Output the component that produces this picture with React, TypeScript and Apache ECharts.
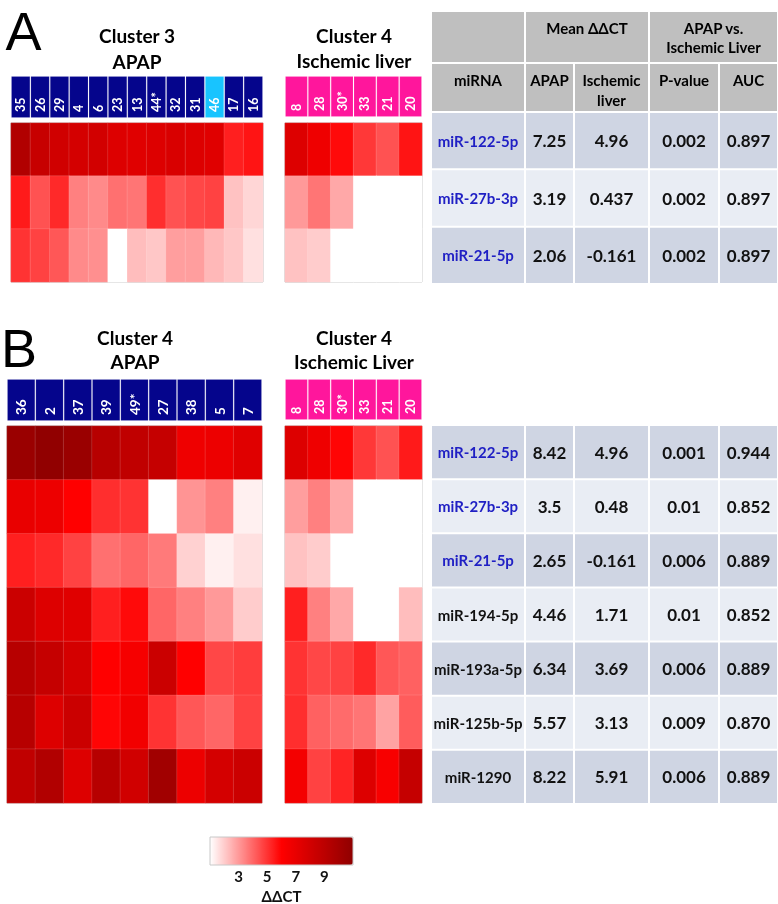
import React, { useEffect, useRef } from 'react';
import * as echarts from 'echarts';

const FONT = 'Lato, "Open Sans", sans-serif';

// ---------- Panel A ----------
const A_MIRNA = ['miR-122-5p', 'miR-27b-3p', 'miR-21-5p'];
const A_APAP_SAMPLES = ['35', '26', '29', '4', '6', '23', '13', '44*', '32', '31', '46', '17', '16'];
const A_APAP_HIGHLIGHT = ['46'];
const A_APAP_VALUES = [
  [9.5, 8.5, 8.1, 7.9, 8.0, 7.5, 7.4, 7.5, 7.7, 7.5, 7.4, 5.4, 5.6],
  [5.5, 4.4, 5.2, 3.5, 3.3, 3.8, 3.7, 5.1, 4.4, 4.6, 4.7, 2.2, 1.8],
  [5.0, 4.7, 4.3, 3.3, 3.2, 0.6, 2.3, 2.1, 2.9, 2.9, 2.4, 2.1, 1.6],
];
const A_ISCH_SAMPLES = ['8', '28', '30*', '33', '21', '20'];
const A_ISCH_VALUES = [
  [7.5, 6.7, 5.8, 4.9, 4.4, 5.6],
  [3.0, 3.7, 2.7, -2.4, -2.6, -2.8],
  [2.2, 2.0, -1.5, -1.8, -1.6, -1.4],
];

// ---------- Panel B ----------
const B_MIRNA = ['miR-122-5p', 'miR-27b-3p', 'miR-21-5p', 'miR-194-5p', 'miR-193a-5p', 'miR-125b-5p', 'miR-1290'];
const B_APAP_SAMPLES = ['36', '2', '37', '39', '49*', '27', '38', '5', '7'];
const B_APAP_VALUES = [
  [10.5, 10.9, 10.5, 9.2, 8.8, 8.6, 6.7, 6.8, 7.4],
  [7.0, 6.8, 6.0, 5.1, 5.0, 0.2, 3.1, 3.5, 1.3],
  [5.4, 5.2, 4.7, 3.8, 4.0, 3.6, 1.9, 1.3, 1.6],
  [8.3, 7.5, 7.4, 5.4, 5.8, 4.0, 3.5, 3.0, 2.0],
  [9.2, 8.6, 7.9, 6.0, 6.4, 8.3, 6.0, 4.6, 4.8],
  [9.2, 7.5, 8.3, 5.9, 6.6, 5.0, 4.3, 4.0, 4.7],
  [8.8, 9.5, 7.5, 9.2, 8.1, 10.2, 6.8, 7.9, 8.3],
];
const B_ISCH_SAMPLES = ['8', '28', '30*', '33', '21', '20'];
const B_ISCH_VALUES = [
  [7.5, 6.7, 5.9, 4.9, 4.4, 5.5],
  [2.9, 3.5, 2.7, -2.3, -2.5, -2.6],
  [2.2, 2.0, -1.5, -1.8, -1.6, -1.4],
  [5.4, 3.5, 2.7, 0.3, 0.5, 2.3],
  [5.0, 4.6, 4.7, 5.2, 4.3, 4.1],
  [5.1, 4.1, 3.9, 3.7, 2.8, 4.2],
  [6.5, 4.7, 5.3, 7.5, 6.3, 8.6],
];

// ---------- Tables ----------
const HIGHLIGHT_MIRNA = ['miR-122-5p', 'miR-27b-3p', 'miR-21-5p'];
const TABLE_A_MIRNA = ['miR-122-5p', 'miR-27b-3p', 'miR-21-5p'];
const TABLE_A_APAP = ['7.25', '3.19', '2.06'];
const TABLE_A_ISCH = ['4.96', '0.437', '-0.161'];
const TABLE_A_P = ['0.002', '0.002', '0.002'];
const TABLE_A_AUC = ['0.897', '0.897', '0.897'];
const TABLE_B_MIRNA = ['miR-122-5p', 'miR-27b-3p', 'miR-21-5p', 'miR-194-5p', 'miR-193a-5p', 'miR-125b-5p', 'miR-1290'];
const TABLE_B_APAP = ['8.42', '3.5', '2.65', '4.46', '6.34', '5.57', '8.22'];
const TABLE_B_ISCH = ['4.96', '0.48', '-0.161', '1.71', '3.69', '3.13', '5.91'];
const TABLE_B_P = ['0.001', '0.01', '0.006', '0.01', '0.006', '0.009', '0.006'];
const TABLE_B_AUC = ['0.944', '0.852', '0.889', '0.852', '0.889', '0.870', '0.889'];
const TABLE_HEAD_TOP = ['', 'Mean ΔΔCT', 'APAP vs.\nIschemic Liver'];
const TABLE_HEAD_SUB = ['miRNA', 'APAP', 'Ischemic\nliver', 'P-value', 'AUC'];

// ---------- Colour scale ----------
const SCALE_MIN = 1;
const SCALE_MAX = 11;
const SCALE_TICKS = [3, 5, 7, 9];

const NAVY = '#05058c';
const CYAN = '#18c4ff';
const PINK = '#ff169c';
const BLUE_TEXT = '#2020c4';
const HEAD_GRAY = '#bfbfbf';
const ROW_DARK = '#cfd5e3';
const ROW_LIGHT = '#e9edf4';

function heatData(values: number[][]) {
  const out: number[][] = [];
  values.forEach((row, r) => row.forEach((v, c) => out.push([c, r, v])));
  return out;
}

export default function App() {
  const ref = useRef<HTMLDivElement>(null);
  useEffect(() => {
    const chart = echarts.init(ref.current!, null, { renderer: 'svg' });

    const panels = [
      { samples: A_APAP_SAMPLES, mirna: A_MIRNA, values: A_APAP_VALUES, base: NAVY, hl: A_APAP_HIGHLIGHT, fs: 12.5,
        heat: { left: 11, top: 123, width: 252, height: 159 }, head: { left: 11, top: 76, width: 252, height: 42 } },
      { samples: A_ISCH_SAMPLES, mirna: A_MIRNA, values: A_ISCH_VALUES, base: PINK, hl: [] as string[], fs: 12.5,
        heat: { left: 285, top: 123, width: 137, height: 159 }, head: { left: 285, top: 76, width: 137, height: 41 } },
      { samples: B_APAP_SAMPLES, mirna: B_MIRNA, values: B_APAP_VALUES, base: NAVY, hl: [] as string[], fs: 13.5,
        heat: { left: 7, top: 426, width: 255, height: 377 }, head: { left: 7, top: 379, width: 255, height: 42 } },
      { samples: B_ISCH_SAMPLES, mirna: B_MIRNA, values: B_ISCH_VALUES, base: PINK, hl: [] as string[], fs: 12.5,
        heat: { left: 285, top: 426, width: 137, height: 377 }, head: { left: 285, top: 379, width: 137, height: 41 } },
    ];

    const grid: any[] = [];
    const xAxis: any[] = [];
    const yAxis: any[] = [];
    const series: any[] = [];

    panels.forEach((p, i) => {
      grid.push({ ...p.heat, show: true, borderColor: '#b8b8b8', borderWidth: 1, backgroundColor: '#ffffff' });
      xAxis.push({ type: 'category', gridIndex: i, data: p.samples, show: false });
      yAxis.push({ type: 'category', gridIndex: i, data: p.mirna, inverse: true, show: false });
      series.push({
        type: 'heatmap', xAxisIndex: i, yAxisIndex: i, data: heatData(p.values),
        itemStyle: { borderColor: 'rgba(255,255,255,0.25)', borderWidth: 0.5 },
        emphasis: { disabled: true }, silent: true,
      });
    });
    panels.forEach((p, i) => {
      const gi = 4 + i;
      grid.push({ ...p.head, show: false });
      xAxis.push({ type: 'category', gridIndex: gi, data: p.samples, show: false });
      yAxis.push({ type: 'value', gridIndex: gi, min: 0, max: 1, show: false });
      series.push({
        type: 'bar', xAxisIndex: gi, yAxisIndex: gi, barWidth: '100%', silent: true,
        data: p.samples.map((s) => ({ value: 1, itemStyle: { color: p.hl.includes(s) ? CYAN : p.base } })),
        itemStyle: { borderColor: 'rgba(255,255,255,0.12)', borderWidth: 1 },
        label: {
          show: true, formatter: '{b}', position: 'insideBottom', distance: 6, rotate: 90,
          align: 'left', verticalAlign: 'middle', color: '#ffffff',
          fontFamily: FONT, fontWeight: 'bold', fontSize: p.fs,
        },
      });
    });
    // colour bar axis
    grid.push({ left: 210, top: 837, width: 143, height: 28, show: false });
    xAxis.push({
      type: 'value', gridIndex: 8, min: SCALE_MIN, max: SCALE_MAX,
      axisLine: { show: false }, axisTick: { show: false }, splitLine: { show: false },
      axisLabel: { customValues: SCALE_TICKS, color: '#111', fontFamily: FONT, fontWeight: 'bold', fontSize: 15, margin: 5 },
      name: 'ΔΔCT', nameLocation: 'middle', nameGap: 25,
      nameTextStyle: { color: '#111', fontFamily: FONT, fontWeight: 'bold', fontSize: 15 },
    });
    yAxis.push({ type: 'value', gridIndex: 8, show: false });

    // ---------- graphics (letters, titles, tables) ----------
    const graphic: any[] = [];
    const txt = (x: number, y: number, text: string, opts: any = {}) => ({
      type: 'text', x, y, silent: true,
      style: {
        text, fill: opts.fill || '#000', fontFamily: opts.family || FONT,
        fontWeight: opts.weight || 'bold', fontSize: opts.size || 16,
        align: 'center', verticalAlign: 'middle', lineHeight: opts.lh || undefined,
      },
    });
    graphic.push(txt(23.5, 31, 'A', { family: '"Liberation Sans", Arial, sans-serif', weight: 'normal', size: 54 }));
    graphic.push(txt(19, 347.5, 'B', { family: '"Liberation Sans", Arial, sans-serif', weight: 'normal', size: 54 }));
    graphic.push(txt(137, 35, 'Cluster 3', { size: 19 }));
    graphic.push(txt(137, 61, 'APAP', { size: 19 }));
    graphic.push(txt(354, 35, 'Cluster 4', { size: 19 }));
    graphic.push(txt(354, 60, 'Ischemic liver', { size: 19 }));
    graphic.push(txt(135, 337, 'Cluster 4', { size: 19 }));
    graphic.push(txt(135, 361, 'APAP', { size: 19 }));
    graphic.push(txt(354, 337, 'Cluster 4', { size: 19 }));
    graphic.push(txt(354, 361, 'Ischemic Liver', { size: 19 }));

    const COLS = [432, 526, 575, 650, 720, 779];
    const cell = (x0: number, x1: number, y0: number, y1: number, fill: string) => ({
      type: 'rect', silent: true, shape: { x: x0, y: y0, width: x1 - x0 - 2, height: y1 - y0 - 2 }, style: { fill },
    });
    const cx = (a: number, b: number) => (COLS[a] + COLS[b] - 2) / 2;

    // table A header
    graphic.push(cell(COLS[0], COLS[1], 12, 64, HEAD_GRAY));
    graphic.push(cell(COLS[1], COLS[3], 12, 64, HEAD_GRAY));
    graphic.push(cell(COLS[3], COLS[5], 12, 64, HEAD_GRAY));
    graphic.push(txt(cx(1, 3), 28, TABLE_HEAD_TOP[1], { size: 15 }));
    graphic.push(txt(cx(3, 5), 37.5, TABLE_HEAD_TOP[2], { size: 15, lh: 19 }));
    TABLE_HEAD_SUB.forEach((h, c) => {
      graphic.push(cell(COLS[c], COLS[c + 1], 64, 113, HEAD_GRAY));
      const multi = h.includes('\n');
      graphic.push(txt(cx(c, c + 1), multi ? 90 : 80, h, { size: 15, lh: 20 }));
    });

    const addRows = (top: number, step: number, cols: string[][]) => {
      const n = cols[0].length;
      for (let r = 0; r < n; r++) {
        const y0 = top + r * step;
        const y1 = top + (r + 1) * step;
        const fill = r % 2 === 0 ? ROW_DARK : ROW_LIGHT;
        const ym = (y0 + y1 - 2) / 2;
        cols.forEach((col, c) => {
          graphic.push(cell(COLS[c], COLS[c + 1], y0, y1, fill));
          const isName = c === 0;
          const color = isName && HIGHLIGHT_MIRNA.includes(col[r]) ? BLUE_TEXT : '#111111';
          graphic.push(txt(cx(c, c + 1), ym, col[r], { size: isName ? 15 : 17, fill: color }));
        });
      }
    };
    addRows(113, (285 - 113) / 3, [TABLE_A_MIRNA, TABLE_A_APAP, TABLE_A_ISCH, TABLE_A_P, TABLE_A_AUC]);
    addRows(426, (805 - 426) / 7, [TABLE_B_MIRNA, TABLE_B_APAP, TABLE_B_ISCH, TABLE_B_P, TABLE_B_AUC]);

    // colour bar outline
    graphic.push({ type: 'rect', silent: true, z: 100, shape: { x: 210, y: 837, width: 143, height: 28 }, style: { fill: 'none', stroke: '#c8c8c8', lineWidth: 1 } });

    chart.setOption({
      animation: false,
      textStyle: { fontFamily: FONT },
      grid, xAxis, yAxis, series, graphic,
      visualMap: {
        type: 'continuous', min: SCALE_MIN, max: SCALE_MAX, seriesIndex: [0, 1, 2, 3],
        orient: 'horizontal', left: 210, top: 837, itemWidth: 28, itemHeight: 143,
        padding: 0, calculable: false, hoverLink: false, text: null,
        inRange: { color: ['#ffffff', '#ff0000', '#8f0000'] },
        outOfRange: { color: ['#ffffff'] },
      },
    });
    return () => chart.dispose();
  }, []);
  return <div ref={ref} style={{ position: 'fixed', left: 0, top: 0, width: 778, height: 904 }} />;
}
